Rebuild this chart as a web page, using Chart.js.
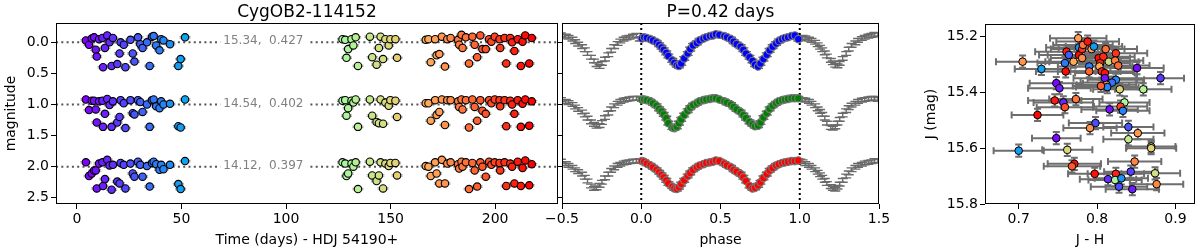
<!DOCTYPE html>
<html>
<head>
<meta charset="utf-8">
<script src="https://cdn.jsdelivr.net/npm/chart.js@4.4.1/dist/chart.umd.min.js"></script>
<style>
  html, body { margin: 0; padding: 0; background: #fff; width: 1200px; height: 249px; overflow: hidden; }
  canvas { position: absolute; top: 0; }
</style>
</head>
<body>
<canvas id="lcChart" width="563" height="249" style="left:0px"></canvas>
<canvas id="phaseChart" width="370" height="249" style="left:530px"></canvas>
<canvas id="cmdChart" width="300" height="249" style="left:900px"></canvas>
<script>
// ---- light curve vs time (J, H+1, K+2) ----
const obsTime = [4.3, 5.8, 7.1, 8.2, 9.0, 9.5, 10.6, 12.2, 12.5, 13.4, 14.5, 15.6, 16.6, 17.2, 19.3, 20.4, 20.9, 22.4, 23.2, 25.6,
  26.7, 27.5, 29.2, 30.3, 31.4, 33.5, 34.8, 35.9, 36.7, 37.9, 39.5, 40.3, 41.4, 44.5, 48.5, 49.6, 51.7,
  127.0, 128.3, 128.9, 129.7, 131.3, 132.2, 133.3, 134.4, 140.1, 141.2, 143.3, 144.4, 145.2, 146.4, 147.5, 149.1, 149.9, 152.3, 153.1,
  166.8, 168.1, 169.2, 171.3, 172.0, 173.3, 174.5, 176.0, 177.1, 178.7, 182.3, 182.8, 183.9, 184.4, 186.0, 187.5, 189.1, 190.2, 191.4,
  192.9, 193.9, 195.5, 197.1, 198.2, 199.8, 202.1, 202.4, 204.5, 205.3, 207.2, 208.1, 209.2, 210.8, 212.3, 213.1, 214.4, 216.3, 217.5];
const lcJ = [-0.03, 0.04, -0.06, -0.08, 0.12, 0.23, -0.05, -0.07, 0.40, 0.09, -0.11, 0.0, 0.38, -0.07, 0.35, 0.18, 0.0, 0.04, 0.40, -0.04,
  0.18, 0.31, -0.08, 0.03, 0.09, 0.0, 0.38, -0.09, -0.10, 0.05, 0.13, -0.05, -0.03, 0.03, 0.38, 0.27, -0.08,
  -0.05, -0.04, 0.25, 0.11, -0.05, 0.05, -0.08, 0.38, -0.09, 0.24, 0.36, 0.09, -0.09, 0.27, -0.05, 0.05, -0.05, -0.05, 0.25,
  -0.04, -0.05, 0.32, -0.05, 0.21, 0.19, -0.09, 0.39, -0.05, -0.07, -0.04, 0.04, -0.12, 0.09, -0.08, 0.34, -0.09, 0.04, 0.24,
  -0.11, 0.11, 0.11, -0.05, -0.01, -0.09, -0.05, 0.09, -0.07, 0.34, -0.07, 0.0, 0.14, -0.05, 0.38, -0.01, -0.11, 0.34, -0.07];
const lcH = [0.92, 1.09, 0.94, 0.94, 1.08, 1.29, 0.95, 0.94, 1.36, 1.15, 0.91, 1.01, 1.36, 0.95, 1.29, 1.20, 0.93, 0.98, 1.38, 0.93,
  1.14, 1.16, 0.93, 0.96, 1.12, 1.00, 1.36, 0.93, 0.92, 1.03, 1.06, 0.95, 1.00, 0.99, 1.35, 1.37, 0.92,
  0.94, 0.93, 1.18, 1.06, 0.94, 0.97, 0.92, 1.36, 0.92, 1.18, 1.28, 1.30, 0.92, 1.31, 0.97, 1.02, 0.93, 0.94, 1.20,
  0.98, 0.98, 1.26, 0.93, 1.17, 1.12, 0.92, 1.33, 0.93, 0.93, 0.95, 1.04, 0.92, 1.08, 0.93, 1.37, 0.92, 1.04, 1.26,
  0.93, 1.10, 1.15, 0.93, 0.98, 0.92, 0.93, 1.03, 0.93, 1.35, 0.94, 1.00, 1.15, 0.93, 1.36, 0.99, 0.92, 1.34, 0.95];
const lcK = [1.93, 2.15, 2.11, 2.06, 2.06, 2.35, 1.95, 1.93, 2.31, 2.20, 1.89, 1.98, 2.37, 1.97, 2.24, 2.27, 1.94, 1.97, 2.35, 1.95,
  2.11, 2.16, 1.92, 1.97, 2.16, 1.99, 2.32, 1.94, 1.92, 1.96, 2.05, 1.97, 2.04, 1.97, 2.28, 2.36, 1.91,
  1.93, 1.95, 2.15, 2.11, 1.95, 2.00, 1.93, 2.36, 1.92, 2.14, 2.23, 2.14, 1.93, 2.35, 1.95, 1.99, 1.94, 1.94, 2.14,
  1.99, 2.00, 2.15, 1.93, 2.11, 2.27, 1.89, 2.27, 1.95, 1.93, 1.96, 2.03, 1.92, 2.00, 1.93, 2.36, 1.94, 2.06, 2.32,
  1.93, 2.00, 2.16, 1.92, 1.97, 1.93, 1.94, 2.06, 1.93, 2.31, 1.95, 2.00, 2.27, 1.92, 2.31, 2.02, 1.90, 2.30, 1.96];
const rowLevels = [0, 1, 2];
const rowMean = ['15.34', '14.54', '14.12'];
const rowAmp = ['0.427', '0.402', '0.397'];
const timeTicks = [0, 50, 100, 150, 200];
const magTicks = [0, 0.5, 1, 1.5, 2, 2.5];

// ---- phased light curve ----
const periodLabel = 'P=0.42 days';
const phase = [0.004, 0.018, 0.035, 0.058, 0.074, 0.097, 0.113, 0.128, 0.142, 0.158, 0.171, 0.196, 0.209, 0.224, 0.238, 0.252, 0.271,
  0.293, 0.309, 0.327, 0.351, 0.368, 0.392, 0.41, 0.433, 0.452, 0.471, 0.493, 0.524, 0.541, 0.566, 0.583, 0.602, 0.627, 0.644,
  0.661, 0.683, 0.702, 0.718, 0.737, 0.752, 0.771, 0.792, 0.81, 0.829, 0.851, 0.868, 0.889, 0.907, 0.926, 0.948, 0.969, 0.991];
const phJ = [-0.06, -0.08, -0.07, -0.05, -0.03, 0.0, 0.04, 0.08, 0.12, 0.17, 0.22, 0.29, 0.33, 0.37, 0.38, 0.34, 0.26, 0.18, 0.11,
  0.05, 0.01, -0.03, -0.06, -0.08, -0.10, -0.11, -0.13, -0.12, -0.10, -0.08, -0.05, -0.01, 0.03, 0.07, 0.12, 0.18, 0.24, 0.30,
  0.36, 0.39, 0.34, 0.27, 0.20, 0.13, 0.07, 0.02, -0.02, -0.05, -0.07, -0.08, -0.10, -0.11, -0.05];
const phH = [0.92, 0.92, 0.93, 0.95, 0.98, 1.02, 1.07, 1.11, 1.16, 1.22, 1.30, 1.37, 1.38, 1.36, 1.30, 1.24, 1.17, 1.10, 1.05,
  1.01, 0.98, 0.95, 0.93, 0.92, 0.91, 0.90, 0.90, 0.92, 0.95, 0.97, 1.00, 1.04, 1.08, 1.12, 1.17, 1.22, 1.28, 1.32,
  1.35, 1.34, 1.29, 1.21, 1.14, 1.07, 1.02, 0.98, 0.95, 0.93, 0.92, 0.91, 0.90, 0.90, 0.90];
const phK = [1.91, 1.92, 1.95, 1.98, 2.01, 2.05, 2.09, 2.13, 2.17, 2.22, 2.27, 2.32, 2.35, 2.36, 2.33, 2.28, 2.22, 2.15, 2.10,
  2.05, 2.01, 1.98, 1.96, 1.94, 1.93, 1.92, 1.90, 1.91, 1.95, 1.98, 2.01, 2.05, 2.08, 2.12, 2.17, 2.23, 2.31, 2.35,
  2.34, 2.30, 2.25, 2.18, 2.12, 2.06, 2.02, 1.98, 1.96, 1.94, 1.93, 1.92, 1.91, 1.91, 1.90];
const phaseColors = ['#0000ff', '#008000', '#ff0000'];
const phaseTicks = [-0.5, 0, 0.5, 1, 1.5];
const phaseMarks = [0, 1];

// ---- colour-magnitude ----
const cmdJH = [0.776, 0.761, 0.764, 0.777, 0.777, 0.781, 0.782, 0.788, 0.793, 0.796, 0.781, 0.770, 0.705, 0.759, 0.729, 0.760,
  0.790, 0.790, 0.802, 0.804, 0.803, 0.808, 0.811, 0.815, 0.824, 0.823, 0.827, 0.806, 0.810, 0.810, 0.824, 0.819, 0.812, 0.813,
  0.805, 0.829, 0.851, 0.881, 0.859, 0.748, 0.752, 0.746, 0.757, 0.759, 0.773, 0.724, 0.835, 0.830, 0.833, 0.816, 0.798, 0.791,
  0.840, 0.852, 0.748, 0.840, 0.869, 0.869, 0.700, 0.762, 0.848, 0.771, 0.768, 0.797, 0.824, 0.843, 0.874, 0.814, 0.823, 0.831,
  0.828, 0.845, 0.876];
const cmdJ = [15.206, 15.254, 15.266, 15.239, 15.266, 15.245, 15.230, 15.218, 15.245, 15.236, 15.277, 15.290, 15.290, 15.295,
  15.316, 15.325, 15.307, 15.325, 15.277, 15.295, 15.307, 15.272, 15.245, 15.290, 15.260, 15.286, 15.304, 15.325, 15.331,
  15.349, 15.355, 15.365, 15.373, 15.381, 15.377, 15.389, 15.313, 15.349, 15.389, 15.367, 15.385, 15.429, 15.436, 15.453,
  15.424, 15.481, 15.436, 15.451, 15.466, 15.461, 15.510, 15.528, 15.524, 15.546, 15.564, 15.568, 15.594, 15.600, 15.609,
  15.606, 15.648, 15.656, 15.665, 15.692, 15.692, 15.684, 15.690, 15.711, 15.714, 15.708, 15.738, 15.747, 15.729];
const cmdJHerr = [0.036, 0.04, 0.038, 0.042, 0.04, 0.04, 0.038, 0.04, 0.042, 0.036, 0.04, 0.036, 0.034, 0.035, 0.034, 0.038,
  0.04, 0.04, 0.04, 0.038, 0.042, 0.04, 0.04, 0.038, 0.04, 0.036, 0.04, 0.04, 0.038, 0.04, 0.036, 0.04, 0.038, 0.04, 0.036,
  0.034, 0.034, 0.03, 0.036, 0.034, 0.04, 0.034, 0.038, 0.036, 0.034, 0.033, 0.032, 0.034, 0.034, 0.036, 0.034, 0.034, 0.032,
  0.034, 0.031, 0.032, 0.031, 0.032, 0.032, 0.032, 0.034, 0.034, 0.036, 0.034, 0.036, 0.034, 0.032, 0.036, 0.034, 0.034,
  0.036, 0.034, 0.034];
const cmdTime = [172, 210, 30, 45, 215, 205, 185, 212, 170, 48, 178, 168, 175, 38, 50, 215, 40, 190, 214, 208, 168, 206, 186,
  145, 203, 182, 188, 209, 212, 10, 44, 36, 180, 42, 192, 150, 8, 20, 133, 6, 12, 211, 15, 196, 184, 216, 130, 200, 41, 9, 25,
  176, 28, 174, 7, 140, 147, 152, 49, 149, 181, 214, 193, 213, 209, 22, 145, 16, 128, 46, 26, 12, 179];
const jhTicks = [0.7, 0.8, 0.9];
const jTicks = [15.2, 15.4, 15.6, 15.8];

Chart.defaults.font.family = '"DejaVu Sans", sans-serif';
Chart.defaults.font.size = 14;
Chart.defaults.color = '#000';
Chart.defaults.animation = false;
Chart.defaults.plugins.legend.display = false;
Chart.defaults.plugins.tooltip.enabled = false;

// matplotlib "rainbow" colour map over the observing window
const tMin = Math.min(...obsTime), tMax = Math.max(...obsTime);
function rainbow(t) {
  const v = Math.min(1, Math.max(0, (t - tMin) / (tMax - tMin)));
  const r = Math.min(1, Math.abs(2 * v - 0.5));
  const g = Math.sin(Math.PI * v);
  const b = Math.cos(Math.PI * v / 2);
  return 'rgb(' + Math.round(r * 255) + ',' + Math.round(g * 255) + ',' + Math.round(b * 255) + ')';
}
const fmtNum = d => v => (v < 0 ? '\u2212' : '') + Math.abs(v).toFixed(d);

function axis(o) {
  return {
    type: 'linear', min: o.min, max: o.max, reverse: !!o.reverse,
    afterBuildTicks: s => { s.ticks = o.ticks.map(v => ({ value: v })); },
    afterFit: s => { if (o.horizontal) s.height = o.size; else s.width = o.size; },
    grid: { drawOnChartArea: false, drawTicks: true, tickLength: 5, color: '#000', lineWidth: 1 },
    border: { display: false },
    ticks: { autoSkip: false, maxRotation: 0, padding: o.horizontal ? 2 : 2, color: '#000', font: { size: 14 },
             callback: v => o.fmt ? o.fmt(v) : '' },
    title: o.title ? { display: true, text: o.title, color: '#000', font: { size: 14 }, padding: o.titlePad }
                   : { display: false }
  };
}

// error bars drawn just beneath each dataset's markers
const errorBars = {
  id: 'errorBars',
  beforeDatasetDraw(chart, args) {
    const ds = chart.data.datasets[args.index];
    const eb = ds.errorBars;
    if (!eb) return;
    const xs = chart.scales[args.meta.xAxisID], ys = chart.scales[args.meta.yAxisID];
    const a = chart.chartArea, ctx = chart.ctx;
    ctx.save();
    ctx.beginPath();
    ctx.rect(a.left, a.top, a.right - a.left, a.bottom - a.top);
    ctx.clip();
    ctx.strokeStyle = eb.color;
    ctx.lineWidth = eb.width;
    ds.data.forEach((p, i) => {
      const xe = Array.isArray(eb.x) ? eb.x[i] : (eb.x || 0);
      const ye = Array.isArray(eb.y) ? eb.y[i] : (eb.y || 0);
      const cx = xs.getPixelForValue(p.x), cy = ys.getPixelForValue(p.y);
      ctx.beginPath();
      if (xe) {
        const x0 = xs.getPixelForValue(p.x - xe), x1 = xs.getPixelForValue(p.x + xe);
        ctx.moveTo(x0, cy); ctx.lineTo(x1, cy);
        ctx.moveTo(x0, cy - eb.cap); ctx.lineTo(x0, cy + eb.cap);
        ctx.moveTo(x1, cy - eb.cap); ctx.lineTo(x1, cy + eb.cap);
      }
      if (ye) {
        const y0 = ys.getPixelForValue(p.y - ye), y1 = ys.getPixelForValue(p.y + ye);
        ctx.moveTo(cx, y0); ctx.lineTo(cx, y1);
        ctx.moveTo(cx - eb.cap, y0); ctx.lineTo(cx + eb.cap, y0);
        ctx.moveTo(cx - eb.cap, y1); ctx.lineTo(cx + eb.cap, y1);
      }
      ctx.stroke();
    });
    ctx.restore();
  }
};

const frame = {
  id: 'frame',
  afterDraw(chart, args, opts) {
    const a = chart.chartArea, ctx = chart.ctx;
    ctx.save();
    ctx.strokeStyle = '#000';
    ctx.lineWidth = 1;
    ctx.strokeRect(Math.round(a.left) + 0.5, Math.round(a.top) + 0.5,
                   Math.round(a.right - a.left) - 1, Math.round(a.bottom - a.top) - 1);
    if (opts.text) {
      ctx.font = '17px "DejaVu Sans"';
      ctx.fillStyle = '#000';
      ctx.textAlign = 'center';
      ctx.textBaseline = 'alphabetic';
      ctx.fillText(opts.text, (a.left + a.right) / 2, 17);
    }
    ctx.restore();
  }
};
Chart.register(errorBars, frame);

// ---------- left: magnitude vs time ----------
const timeRange = [-10, 230];
const magRange = [-0.31, 2.6];
const rowLabels = {
  id: 'rowLabels',
  afterDatasetsDraw(chart) {
    const ctx = chart.ctx, xs = chart.scales.x, ys = chart.scales.y;
    ctx.save();
    ctx.font = '12px "DejaVu Sans"';
    ctx.textBaseline = 'middle';
    rowLevels.forEach((lv, i) => {
      const txt = rowMean[i] + ',  ' + rowAmp[i];
      const x = xs.getPixelForValue(70), y = ys.getPixelForValue(lv);
      const w = ctx.measureText(txt).width;
      ctx.fillStyle = '#fff';
      ctx.fillRect(x - 3, y - 7, w + 7, 14);
      ctx.fillStyle = '#808080';
      ctx.fillText(txt, x, y - 1);
    });
    ctx.restore();
  }
};

new Chart(document.getElementById('lcChart'), {
  type: 'scatter',
  data: {
    datasets: [
      ...[lcJ, lcH, lcK].map(row => ({
        data: obsTime.map((t, i) => ({ x: t, y: row[i] })),
        pointRadius: 3.7,
        pointBackgroundColor: obsTime.map(rainbow),
        pointBorderColor: '#000',
        pointBorderWidth: 1.1,
        errorBars: { y: 0.012, cap: 5.5, color: '#9a9a9a', width: 1 },
        order: 1
      })),
      ...rowLevels.map(lv => ({
        type: 'line',
        data: timeRange.map(x => ({ x, y: lv })),
        borderColor: '#555',
        borderWidth: 2,
        borderDash: [2, 3.3],
        pointRadius: 0,
        order: 3
      }))
    ]
  },
  options: {
    responsive: false,
    layout: { padding: { top: 23, right: 1, left: 0, bottom: 0 } },
    scales: {
      x: axis({ min: timeRange[0], max: timeRange[1], ticks: timeTicks, fmt: fmtNum(0), horizontal: true, size: 45,
                title: 'Time (days) - HDJ 54190+', titlePad: { top: 0, bottom: 0 } }),
      y: axis({ min: magRange[0], max: magRange[1], reverse: true, ticks: magTicks, fmt: fmtNum(1), size: 56,
                title: 'magnitude', titlePad: { top: 3, bottom: 0 } })
    },
    plugins: { frame: { text: 'CygOB2-114152' } }
  },
  plugins: [rowLabels]
});

// ---------- middle: phased light curves ----------
const phaseRange = [-0.5, 1.5];
const grayPts = [];
[phJ, phH, phK].forEach(row => [-1, 0, 1].forEach(k => phase.forEach((p, i) => grayPts.push({ x: p + k, y: row[i] }))));

new Chart(document.getElementById('phaseChart'), {
  type: 'scatter',
  data: {
    datasets: [
      ...[phJ, phH, phK].map((row, r) => ({
        data: phase.map((p, i) => ({ x: p, y: row[i] })),
        pointRadius: 3.7,
        pointBackgroundColor: phaseColors[r],
        pointBorderColor: '#777',
        pointBorderWidth: 1.2,
        order: 1
      })),
      ...phaseMarks.map(m => ({
        type: 'line',
        data: magRange.map(y => ({ x: m, y })),
        borderColor: '#000',
        borderWidth: 2,
        borderDash: [2, 3],
        pointRadius: 0,
        order: 2
      })),
      {
        data: grayPts,
        pointRadius: 0,
        errorBars: { y: 0.03, cap: 5, color: '#6a6a6a', width: 1.4 },
        order: 3
      }
    ]
  },
  options: {
    responsive: false,
    layout: { padding: { top: 23, right: 21, left: 0, bottom: 0 } },
    scales: {
      x: axis({ min: phaseRange[0], max: phaseRange[1], ticks: phaseTicks, fmt: fmtNum(1), horizontal: true, size: 45,
                title: 'phase', titlePad: { top: 0, bottom: 0 } }),
      y: axis({ min: magRange[0], max: magRange[1], reverse: true, ticks: magTicks, fmt: null, size: 32 })
    },
    plugins: { frame: { text: periodLabel } }
  }
});

// ---------- right: colour-magnitude ----------
new Chart(document.getElementById('cmdChart'), {
  type: 'scatter',
  data: {
    datasets: [{
      data: cmdJH.map((v, i) => ({ x: v, y: cmdJ[i] })),
      pointRadius: 3.8,
      pointBackgroundColor: cmdTime.map(rainbow),
      pointBorderColor: '#000',
      pointBorderWidth: 1,
      errorBars: { x: cmdJHerr, y: 0.022, cap: 3.5, color: '#6e6e6e', width: 2 }
    }]
  },
  options: {
    responsive: false,
    layout: { padding: { top: 24, right: 3, left: 0, bottom: 0 } },
    scales: {
      x: axis({ min: 0.657, max: 0.925, ticks: jhTicks, fmt: fmtNum(1), horizontal: true, size: 45,
                title: 'J - H', titlePad: { top: 0, bottom: 0 } }),
      y: axis({ min: 15.155, max: 15.8, reverse: true, ticks: jTicks, fmt: fmtNum(1), size: 85,
                title: 'J (mag)', titlePad: { top: 23, bottom: 0 } })
    },
    plugins: { frame: { text: '' } }
  }
});
</script>
</body>
</html>
